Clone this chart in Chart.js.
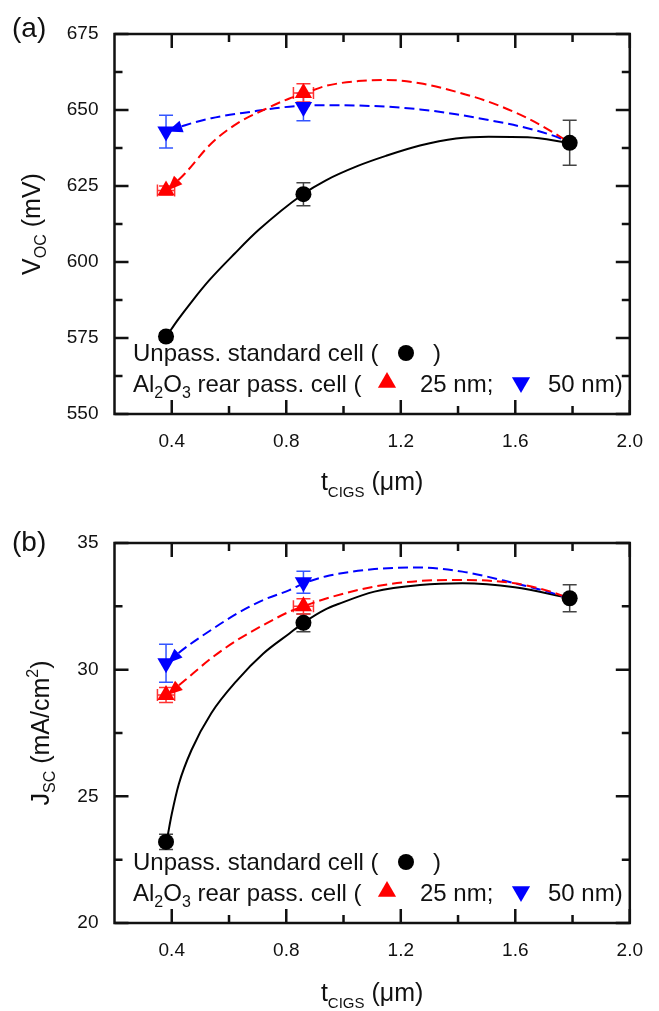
<!DOCTYPE html>
<html lang="en">
<head>
<meta charset="UTF-8" />
<title>V_OC and J_SC vs CIGS thickness</title>
<script src="https://cdn.jsdelivr.net/npm/chart.js@4.4.1/dist/chart.umd.min.js"></script>
<style>
html,body{margin:0;padding:0;background:#fff}
.panel{position:absolute;left:0;width:659px}
#pa{top:0;height:505px}
#pb{top:505px;height:506px}
</style>
</head>
<body>
<div class="panel" id="pa"><canvas id="chartA"></canvas></div>
<div class="panel" id="pb"><canvas id="chartB"></canvas></div>

<script>
/* ── data ───────────────────────────────────────────────────────── */
const xTicks = [0.4, 0.8, 1.2, 1.6, 2.0];
const xMinor = [0.6, 1.0, 1.4, 1.8];
const vocTicks = [550, 575, 600, 625, 650, 675];
const vocMinor = [562.5, 587.5, 612.5, 637.5, 662.5];
const jscTicks = [20, 25, 30, 35];
const jscMinor = [22.5, 27.5, 32.5];

const tStd  = [0.38, 0.86, 1.79];   // t_CIGS of measured cells (µm)
const tPass = [0.38, 0.86];
const tPassErr = [0.03, 0.035];

// (a) Voc, mV
const vocStd = [575.5, 622.3, 639.2];
const vocStdErr = [1.2, 3.8, 7.4];
const voc25 = [623.5, 655.6];
const voc25Err = [1.5, 3.0];
const voc50 = [642.9, 651.0];
const voc50Err = [5.4, 4.5];

// (a) guide curves
const vocFitStdT = [0.385, 0.42, 0.47, 0.532, 0.62, 0.703, 0.858, 0.937, 1.05, 1.148, 1.267, 1.393, 1.507, 1.643, 1.789];
const vocFitStdV = [576.0, 580.8, 587.0, 594.1, 602.8, 610.5, 622.3, 626.8, 631.6, 634.9, 638.3, 640.6, 641.2, 641.0, 639.2];
const vocFit25T = [0.385, 0.447, 0.538, 0.629, 0.72, 0.811, 0.86, 0.937, 1.05, 1.148, 1.267, 1.393, 1.507, 1.643, 1.757, 1.789];
const vocFit25V = [623.5, 629.2, 639, 645.6, 650, 653.8, 655.3, 657.9, 659.5, 659.9, 658.8, 656, 652.7, 647.3, 641.2, 639.2];
const vocFit50T = [0.385, 0.447, 0.538, 0.675, 0.811, 0.937, 1.148, 1.267, 1.393, 1.507, 1.643, 1.757, 1.789];
const vocFit50V = [642.9, 645, 647.3, 649.4, 651.1, 651.6, 651.1, 650.2, 648.6, 646.7, 644, 640.7, 639.2];

// (b) Jsc, mA/cm2
const jscStd = [23.2, 31.85, 32.82];
const jscStdErr = [0.3, 0.35, 0.53];
const jsc25 = [29.0, 32.5];
const jsc25Err = [0.3, 0.3];
const jsc50 = [30.25, 33.45];
const jsc50Err = [0.75, 0.43];

// (b) guide curves
const jscFitStdT = [0.385, 0.40, 0.425, 0.469, 0.538, 0.629, 0.72, 0.811, 0.86, 0.937, 0.982, 1.108, 1.267, 1.415, 1.598, 1.789];
const jscFitStdJ = [23.4, 24.3, 25.5, 26.83, 28.28, 29.59, 30.64, 31.43, 31.85, 32.38, 32.59, 33.08, 33.34, 33.41, 33.25, 32.82];
const jscFit25T = [0.385, 0.447, 0.538, 0.629, 0.72, 0.811, 0.86, 0.937, 1.108, 1.267, 1.415, 1.598, 1.712, 1.789];
const jscFit25J = [29.0, 29.59, 30.45, 31.17, 31.76, 32.29, 32.5, 32.8, 33.28, 33.5, 33.54, 33.41, 33.12, 32.82];
const jscFit50T = [0.385, 0.424, 0.538, 0.629, 0.72, 0.811, 0.86, 0.937, 1.108, 1.267, 1.415, 1.598, 1.712, 1.789];
const jscFit50J = [30.25, 30.66, 31.57, 32.22, 32.75, 33.14, 33.4, 33.68, 33.97, 34.03, 33.87, 33.41, 33.08, 32.82];

/* ── helpers ────────────────────────────────────────────────────── */
const FONT = "'Liberation Sans', Arial, sans-serif";
const INK = '#111';
const RED = '#ff0000', BLUE = '#0000ff';
const pts = (xs, ys) => xs.map((x, i) => ({x, y: ys[i]}));

// draw text made of pieces [text, size, dy]
function rich(ctx, parts, x, y, align){
  let w = 0;
  parts.forEach(([t, s]) => { ctx.font = s + 'px ' + FONT; w += ctx.measureText(t).width; });
  let cx = align === 'center' ? x - w / 2 : x;
  ctx.textAlign = 'left'; ctx.textBaseline = 'alphabetic';
  parts.forEach(([t, s, dy]) => {
    ctx.font = s + 'px ' + FONT;
    ctx.fillText(t, cx, y + (dy || 0));
    cx += ctx.measureText(t).width;
  });
}

function curve(xs, ys, color, dashed){
  return {data: pts(xs, ys), showLine: true, borderColor: color, borderWidth: 2,
    borderDash: dashed ? [10, 5] : [], pointRadius: 0, cubicInterpolationMode: 'monotone', order: 5};
}
function marks(xs, ys, color, style, r, rot, order){
  return {data: pts(xs, ys), showLine: false, pointStyle: style, pointRadius: r, pointRotation: rot,
    pointBackgroundColor: color, pointBorderWidth: 0, order};
}

const panelPlugin = {
  id: 'panel',
  beforeDatasetsDraw(chart, args, o){
    const {ctx, scales: {x, y}} = chart;
    ctx.save();
    ctx.lineWidth = 1.5;
    o.errs.forEach(e => {
      ctx.strokeStyle = e.color;
      e.xs.forEach((xv, i) => {
        const px = x.getPixelForValue(xv);
        const y1 = y.getPixelForValue(e.ys[i] + e.dy[i]), y2 = y.getPixelForValue(e.ys[i] - e.dy[i]);
        const py = y.getPixelForValue(e.ys[i]);
        ctx.beginPath();
        ctx.moveTo(px, y1); ctx.lineTo(px, y2);
        ctx.moveTo(px - 7, y1); ctx.lineTo(px + 7, y1);
        ctx.moveTo(px - 7, y2); ctx.lineTo(px + 7, y2);
        if (e.dx){
          const x1 = x.getPixelForValue(xv - e.dx[i]), x2 = x.getPixelForValue(xv + e.dx[i]);
          ctx.moveTo(x1, py); ctx.lineTo(x2, py);
          ctx.moveTo(x1, py - 6); ctx.lineTo(x1, py + 6);
          ctx.moveTo(x2, py - 6); ctx.lineTo(x2, py + 6);
        }
        ctx.stroke();
      });
    });
    ctx.restore();
  },
  afterDatasetsDraw(chart, args, o){
    const {ctx, chartArea: a, scales: {x, y}} = chart;
    ctx.save();
    // arrow heads at the start of the dashed curves
    o.arrows.forEach(ar => {
      const x0 = x.getPixelForValue(ar.xs[0]), y0 = y.getPixelForValue(ar.ys[0]);
      const x1 = x.getPixelForValue(ar.xs[1]), y1 = y.getPixelForValue(ar.ys[1]);
      const ang = Math.atan2(y0 - y1, x0 - x1), L = 15, W = 6;
      const bx = x0 - Math.cos(ang) * L, by = y0 - Math.sin(ang) * L;
      ctx.fillStyle = ar.color;
      ctx.beginPath();
      ctx.moveTo(x0, y0);
      ctx.lineTo(bx + Math.sin(ang) * W, by - Math.cos(ang) * W);
      ctx.lineTo(bx - Math.sin(ang) * W, by + Math.cos(ang) * W);
      ctx.closePath(); ctx.fill();
    });
    // frame + inward ticks on all sides
    ctx.strokeStyle = INK; ctx.lineWidth = 2.5;
    ctx.strokeRect(a.left, a.top, a.right - a.left, a.bottom - a.top);
    const tickX = (vals, len) => vals.forEach(v => {
      const p = x.getPixelForValue(v);
      ctx.beginPath(); ctx.moveTo(p, a.bottom); ctx.lineTo(p, a.bottom - len);
      ctx.moveTo(p, a.top); ctx.lineTo(p, a.top + len); ctx.stroke();
    });
    const tickY = (vals, len) => vals.forEach(v => {
      const p = y.getPixelForValue(v);
      ctx.beginPath(); ctx.moveTo(a.left, p); ctx.lineTo(a.left + len, p);
      ctx.moveTo(a.right, p); ctx.lineTo(a.right - len, p); ctx.stroke();
    });
    tickX(xTicks, 14); tickX(xMinor, 8);
    tickY(o.yTicks, 14); tickY(o.yMinor, 8);

    // legend inside the plot
    ctx.fillStyle = INK;
    const L0 = a.left + 18.5, b1 = a.bottom - 53, b2 = a.bottom - 22;
    rich(ctx, [['Unpass. standard cell (', 24]], L0, b1);
    rich(ctx, [[')', 24]], a.left + 318.5, b1);
    rich(ctx, [['Al', 24], ['2', 16, 6], ['O', 24], ['3', 16, 6], [' rear pass. cell (', 24]], L0, b2);
    rich(ctx, [['25 nm;', 24]], a.left + 305.5, b2);
    rich(ctx, [['50 nm)', 24]], a.left + 433.5, b2);
    ctx.fillStyle = '#000';
    Chart.helpers.drawPoint(ctx, {pointStyle: 'circle', radius: 8, rotation: 0, borderWidth: 0}, a.left + 291.5, a.bottom - 61);
    ctx.fillStyle = RED;
    Chart.helpers.drawPoint(ctx, {pointStyle: 'triangle', radius: 10.5, rotation: 0, borderWidth: 0}, a.left + 272.5, a.bottom - 31.5);
    ctx.fillStyle = BLUE;
    Chart.helpers.drawPoint(ctx, {pointStyle: 'triangle', radius: 10.5, rotation: 180, borderWidth: 0}, a.left + 406.5, a.bottom - 31.5);

    // panel letter and axis titles
    ctx.fillStyle = INK;
    rich(ctx, [[o.letter, 28]], 12, o.letterBase);
    rich(ctx, [['t', 25], ['CIGS', 15, 7], [' (\u03bcm)', 25]], (a.left + a.right) / 2, a.bottom + o.xTitleOff, 'center');
    ctx.save();
    ctx.translate(o.yTitleX, (a.top + a.bottom) / 2);
    ctx.rotate(-Math.PI / 2);
    rich(ctx, o.yTitle, 0, 0, 'center');
    ctx.restore();
    ctx.restore();
  }
};

function makeChart(id, c){
  return new Chart(document.getElementById(id), {
    type: 'scatter',
    data: {datasets: c.datasets},
    options: {
      responsive: true, maintainAspectRatio: false, animation: false,
      layout: {padding: {top: c.padTop, right: 18, left: 0, bottom: 0}},
      plugins: {legend: {display: false}, tooltip: {enabled: false}, panel: c.panel},
      scales: {
        x: {type: 'linear', min: 0.2, max: 2.0,
          afterBuildTicks: s => { s.ticks = xTicks.map(v => ({value: v})); },
          afterFit: s => { s.height = c.xAxisH; },
          grid: {display: false, drawTicks: false}, border: {display: false},
          ticks: {padding: 16, color: INK, font: {family: FONT, size: 19}, maxRotation: 0, autoSkip: false,
            callback: v => v.toFixed(1)}},
        y: {type: 'linear', min: c.yMin, max: c.yMax,
          afterBuildTicks: s => { s.ticks = c.panel.yTicks.map(v => ({value: v})); },
          afterFit: s => { s.width = 114.5; },
          grid: {display: false, drawTicks: false}, border: {display: false},
          ticks: {padding: 16, color: INK, font: {family: FONT, size: 19}, autoSkip: false,
            callback: v => String(v)}}
      }
    },
    plugins: [panelPlugin]
  });
}

/* ── (a) Voc ────────────────────────────────────────────────────── */
makeChart('chartA', {
  padTop: 34, xAxisH: 91, yMin: 550, yMax: 675,
  datasets: [
    marks(tPass, voc25, RED, 'triangle', 10, 0, 0),
    marks(tPass, voc50, BLUE, 'triangle', 10, 180, 1),
    marks(tStd, vocStd, '#000', 'circle', 8, 0, 2),
    curve(vocFit25T, vocFit25V, RED, true),
    curve(vocFit50T, vocFit50V, BLUE, true),
    curve(vocFitStdT, vocFitStdV, '#000', false)
  ],
  panel: {
    yTicks: vocTicks, yMinor: vocMinor, letter: '(a)', letterBase: 37, xTitleOff: 76, yTitleX: 40,
    yTitle: [['V', 25], ['OC', 16, 6], [' (mV)', 25]],
    errs: [
      {xs: tStd, ys: vocStd, dy: vocStdErr, color: '#444'},
      {xs: tPass, ys: voc50, dy: voc50Err, color: '#3355ff'},
      {xs: tPass, ys: voc25, dy: voc25Err, dx: tPassErr, color: '#ff3333'}
    ],
    arrows: [
      {xs: vocFit25T, ys: vocFit25V, color: RED},
      {xs: vocFit50T, ys: vocFit50V, color: BLUE}
    ]
  }
});

/* ── (b) Jsc ────────────────────────────────────────────────────── */
makeChart('chartB', {
  padTop: 38, xAxisH: 88, yMin: 20, yMax: 35,
  datasets: [
    marks(tPass, jsc25, RED, 'triangle', 10, 0, 0),
    marks(tPass, jsc50, BLUE, 'triangle', 10, 180, 1),
    marks(tStd, jscStd, '#000', 'circle', 8, 0, 2),
    curve(jscFit25T, jscFit25J, RED, true),
    curve(jscFit50T, jscFit50J, BLUE, true),
    curve(jscFitStdT, jscFitStdJ, '#000', false)
  ],
  panel: {
    yTicks: jscTicks, yMinor: jscMinor, letter: '(b)', letterBase: 46, xTitleOff: 78, yTitleX: 49,
    yTitle: [['J', 25], ['SC', 16, 6], [' (mA/cm', 25], ['2', 16, -11], [')', 25]],
    errs: [
      {xs: tStd, ys: jscStd, dy: jscStdErr, color: '#444'},
      {xs: tPass, ys: jsc50, dy: jsc50Err, color: '#3355ff'},
      {xs: tPass, ys: jsc25, dy: jsc25Err, dx: tPassErr, color: '#ff3333'}
    ],
    arrows: [
      {xs: jscFit25T, ys: jscFit25J, color: RED},
      {xs: jscFit50T, ys: jscFit50J, color: BLUE}
    ]
  }
});
</script>
</body>
</html>
